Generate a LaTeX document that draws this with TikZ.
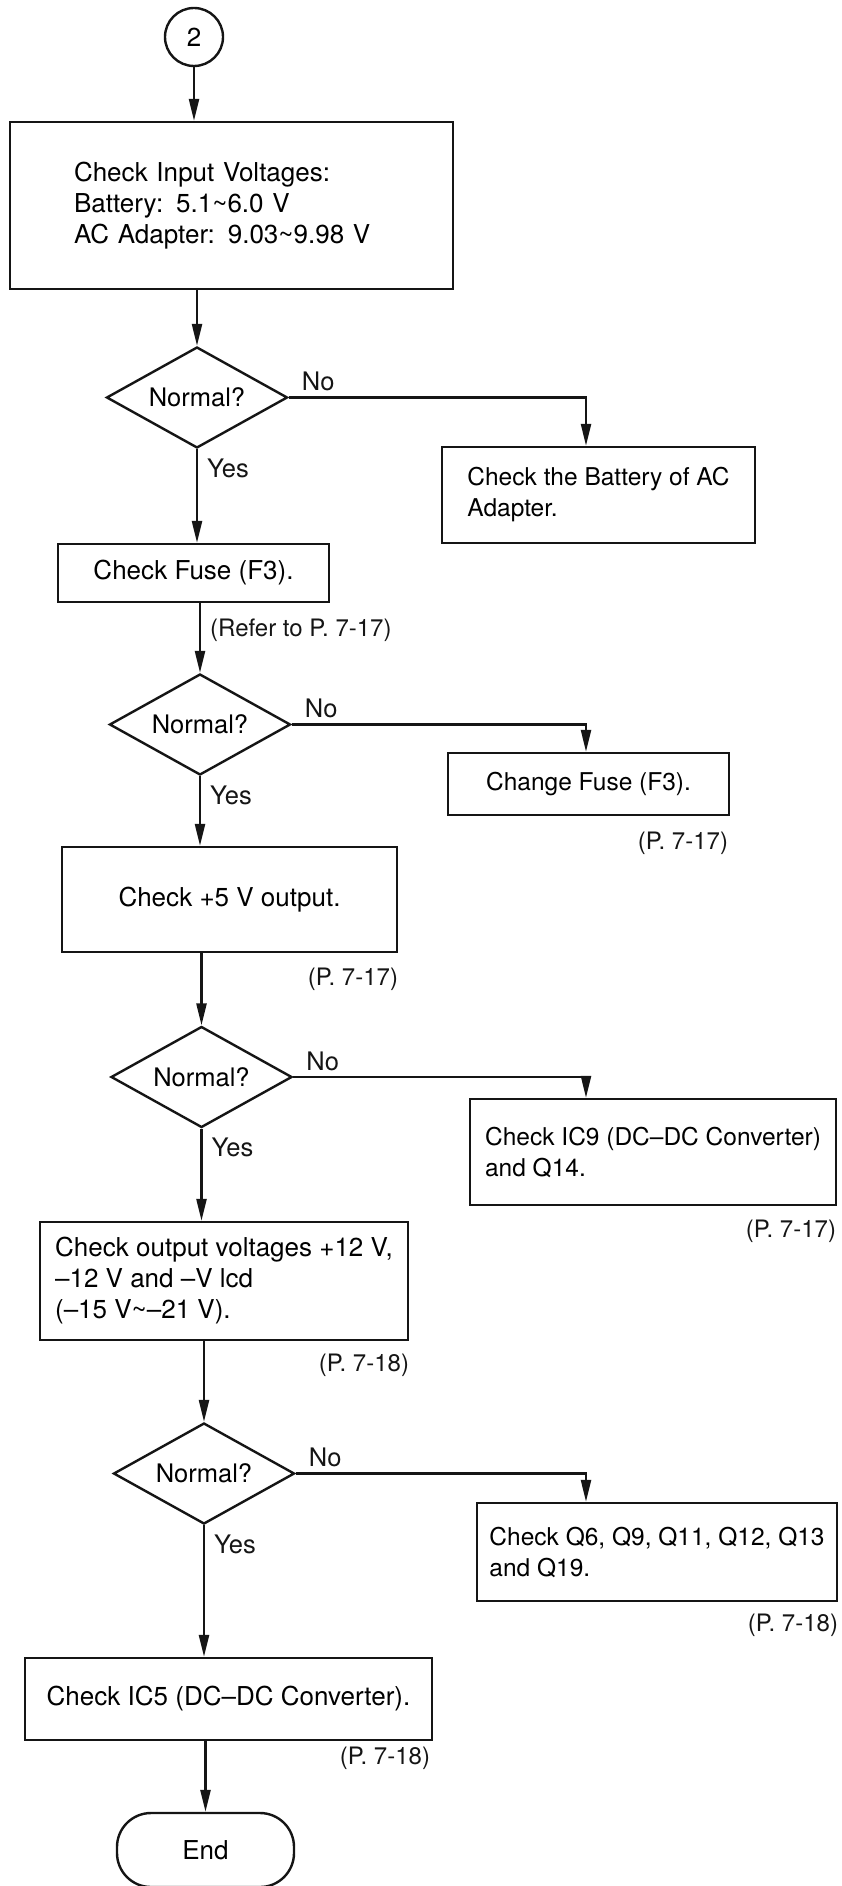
\documentclass[tikz,border=0pt]{standalone}
\usepackage{fontspec}
\setmainfont{TeX Gyre Heros}
\usepackage{tikz}
\usetikzlibrary{arrows.meta,shapes.geometric,calc}
\definecolor{ChartInk}{HTML}{151515}
\newcommand{\mainsize}{\fontsize{26}{31}\selectfont}
\newcommand{\sidesize}{\fontsize{24.5}{31}\selectfont}
\newcommand{\tagsize}{\fontsize{25.5}{30}\selectfont}
\newcommand{\refsize}{\fontsize{24}{28}\selectfont}
\tikzset{
  box/.style={draw=ChartInk,line width=2.4pt,align=left,inner sep=0pt,font=\mainsize},
  sidebox/.style={box,font=\sidesize},
  check/.style={diamond,aspect=1.8,draw=ChartInk,line width=2.4pt,inner sep=0pt,
    minimum width=181pt,minimum height=101pt,font=\tagsize},
  terminal/.style={draw=ChartInk,line width=2.4pt,rounded corners=34pt,inner sep=0pt,
    minimum width=177pt,minimum height=74pt,font=\mainsize},
  connector/.style={circle,draw=ChartInk,line width=2.4pt,inner sep=0pt,
    minimum size=58pt,font=\mainsize},
  flow/.style={-{Triangle[length=22pt,width=10pt]},line width=2.4pt,draw=ChartInk},
  tag/.style={inner sep=0pt,font=\tagsize,text=ChartInk},
  pref/.style={inner sep=0pt,anchor=east,font=\refsize,text=ChartInk}
}
\begin{document}
\begin{tikzpicture}[x=1pt,y=-1pt]
  \useasboundingbox (0,0) rectangle (842,1886);
  \node[connector] (start) at (194,37) {2};
  \node[box,minimum width=443pt,minimum height=167pt,text width=315pt,inner xsep=64pt] (inp)
    at (231.5,205.5) {Check Input Voltages:\\Battery: 5.1\textasciitilde6.0 V\\AC Adapter: 9.03\textasciitilde9.98 V};
  \node[check] (d1) at (197,397.5) {Normal?};
  \node[sidebox,minimum width=313pt,minimum height=96pt] (bat) at (598.5,495) {Check the Battery of AC\\Adapter.};
  \node[box,align=center,minimum width=271pt,minimum height=58pt] (fuse) at (193.5,573) {Check Fuse (F3).};
  \node[check] (d2) at (200,724.5) {Normal?};
  \node[sidebox,align=center,minimum width=281pt,minimum height=62pt] (chg) at (588.5,784) {Change Fuse (F3).};
  \node[box,align=center,minimum width=335pt,minimum height=105pt] (fivev) at (229.5,899.5) {Check +5 V output.};
  \node[check] (d3) at (201.5,1077) {Normal?};
  \node[sidebox,minimum width=366pt,minimum height=106pt] (ic9) at (653,1152) {Check IC9 (DC–DC Converter)\\and Q14.};
  \node[box,minimum width=368pt,minimum height=118pt] (outv) at (224,1281)
    {Check output voltages +12 V,\\–12 V and –V lcd\\(–15 V\textasciitilde–21 V).};
  \node[check] (d4) at (204,1473.5) {Normal?};
  \node[sidebox,minimum width=360pt,minimum height=98pt] (qchk) at (657,1552) {Check Q6, Q9, Q11, Q12, Q13\\and Q19.};
  \node[box,align=center,minimum width=407pt,minimum height=82pt] (ic5) at (228.5,1699) {Check IC5 (DC–DC Converter).};
  \node[terminal] (fin) at (205.5,1850) {End};
  \coordinate (nocol) at (586,0);
  \draw[flow] (start) -- (start |- inp.north);
  \draw[flow] (inp.south -| d1) -- (d1.north);
  \draw[flow] (d1.south) -- (d1.south |- fuse.north);
  \draw[flow] (fuse.south -| d2) -- (d2.north);
  \draw[flow] (d2.south) -- (d2.south |- fivev.north);
  \draw[flow] (fivev.south -| d3) -- (d3.north);
  \draw[flow] (d3.south) -- (d3.south |- outv.north);
  \draw[flow] (outv.south -| d4) -- (d4.north);
  \draw[flow] (d4.south) -- (d4.south |- ic5.north);
  \draw[flow] (ic5.south -| fin) -- (fin.north);
  \foreach \d/\b in {d1/bat,d2/chg,d3/ic9,d4/qchk}{
    \draw[flow] (\d.east) -| (nocol |- \b.north);
    \node[tag,anchor=base west] (no\d) at ($(\d.east)+(13,-7)$) {No};
    \node[tag,anchor=west] (yes\d) at ($(\d.south)+(10,19)$) {Yes};
  }
  \node[pref,anchor=west] (reffuse) at ($(fuse.south -| d2)+(10,27)$) {(Refer to P. 7-17)};
  \node[pref] (refchg) at ($(chg.south east)+(-2,27)$) {(P. 7-17)};
  \node[pref] (reffive) at ($(fivev.south east)+(0,26)$) {(P. 7-17)};
  \node[pref] (refic9) at ($(ic9.south east)+(-1,25)$) {(P. 7-17)};
  \node[pref] (refoutv) at ($(outv.south east)+(0,24)$) {(P. 7-18)};
  \node[pref] (refq) at ($(qchk.south east)+(0,23)$) {(P. 7-18)};
  \node[pref] (refic5) at ($(ic5.south east)+(-3,17)$) {(P. 7-18)};
\end{tikzpicture}
\end{document}
